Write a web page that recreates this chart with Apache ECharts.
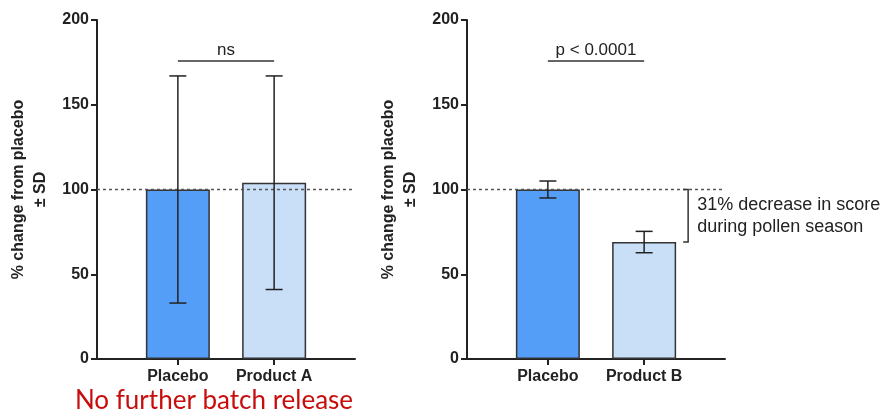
<!DOCTYPE html>
<html><head><meta charset="utf-8">
<script src="https://cdn.jsdelivr.net/npm/echarts@6/dist/echarts.min.js"></script>
<style>html,body{margin:0;padding:0;background:#fff}#c{width:894px;height:418px}</style>
</head><body><div id="c"></div>
<script>
// ---- data ----
const catsLeft = ['Placebo', 'Product A'];
const catsRight = ['Placebo', 'Product B'];
const meanLeft = [100, 104];
const sdLeft = [67, 63];
const meanRight = [100, 69];
const sdRight = [5, 6.3];
const refLine = 100;
const sigY = [176, 176];
const sigText = ['ns', 'p < 0.0001'];
const bracketText = '31% decrease in score\nduring pollen season';
const footnote = 'No further batch release';
const yName = '% change from placebo\n\u00b1 SD';

// ---- style ----
const barColors = ['#559ef8', '#c9def7'];
const ink = '#222';
const FONT = 'Liberation Sans, Arial, sans-serif';

function xAxisFor(gi, cats) {
  return {
    type: 'value', gridIndex: gi, min: -0.84, max: 1.84,
    axisLine: { show: true, onZero: false, lineStyle: { color: ink, width: 2 } },
    axisTick: { show: true, customValues: [0, 1], length: 6, lineStyle: { color: ink, width: 2 } },
    axisLabel: { customValues: [0, 1], formatter: v => cats[Math.round(v)], margin: 10,
      fontFamily: FONT, fontWeight: 'bold', fontSize: 16, color: ink },
    splitLine: { show: false }
  };
}
function yAxisFor(gi) {
  return {
    type: 'value', gridIndex: gi, min: 0, max: 200, interval: 50,
    axisLine: { show: true, onZero: false, lineStyle: { color: ink, width: 2 } },
    axisTick: { show: true, length: 6, lineStyle: { color: ink, width: 2 } },
    axisLabel: { margin: 8, fontFamily: FONT, fontWeight: 'bold', fontSize: 16, color: ink },
    splitLine: { show: false },
    name: yName, nameLocation: 'middle', nameRotate: 90, nameGap: 45,
    nameTextStyle: { fontFamily: FONT, fontWeight: 'bold', fontSize: 16, color: ink, lineHeight: 22 }
  };
}
function barSeries(gi, means, sig, sigLabel) {
  return {
    type: 'bar', xAxisIndex: gi, yAxisIndex: gi, barWidth: 64,
    data: means.map((m, i) => ({ value: [i, m], itemStyle: { color: barColors[i] } })),
    itemStyle: { borderColor: '#333', borderWidth: 1.5 },
    markLine: {
      silent: true, symbol: 'none', animation: false,
      data: [
        { yAxis: refLine, lineStyle: { type: [3, 3], color: '#555', width: 1.3 }, label: { show: false } },
        [ { coord: [0, sig], lineStyle: { type: 'solid', color: '#333', width: 1.5 },
            label: { show: true, position: 'middle', formatter: sigLabel, distance: 2,
              fontFamily: FONT, fontSize: 17, color: ink } },
          { coord: [1, sig] } ]
      ]
    }
  };
}
function errSeries(gi, means, sds) {
  return {
    type: 'custom', xAxisIndex: gi, yAxisIndex: gi, z: 5, clip: false,
    data: means.map((m, i) => [i, m, sds[i]]),
    renderItem: (params, api) => {
      const x = api.value(0), m = api.value(1), s = api.value(2);
      const t = api.coord([x, m + s]), b = api.coord([x, m - s]);
      const hw = 8.5, st = { stroke: ink, lineWidth: 1.5 };
      return { type: 'group', children: [
        { type: 'line', shape: { x1: t[0], y1: t[1], x2: b[0], y2: b[1] }, style: st },
        { type: 'line', shape: { x1: t[0] - hw, y1: t[1], x2: t[0] + hw, y2: t[1] }, style: st },
        { type: 'line', shape: { x1: b[0] - hw, y1: b[1], x2: b[0] + hw, y2: b[1] }, style: st }
      ]};
    }
  };
}
const bracketSeries = {
  type: 'custom', xAxisIndex: 1, yAxisIndex: 1, clip: false, z: 6,
  data: [[1, meanRight[0], meanRight[1]]],
  renderItem: (params, api) => {
    const a = api.coord([api.value(0), api.value(1)]);
    const b = api.coord([api.value(0), api.value(2)]);
    const xb = a[0] + 44;
    return { type: 'group', children: [
      { type: 'polyline', shape: { points: [[xb - 5, a[1]], [xb, a[1]], [xb, b[1]], [xb - 5, b[1]]] },
        style: { stroke: '#333', lineWidth: 1.5, fill: null } },
      { type: 'text', x: xb + 9, y: (a[1] + b[1]) / 2,
        style: { text: bracketText, fontFamily: FONT, fontSize: 18, fill: ink, lineHeight: 22,
          textAlign: 'left', textVerticalAlign: 'middle' } }
    ]};
  }
};

const chart = echarts.init(document.getElementById('c'), null, { renderer: 'canvas' });
chart.setOption({
  animation: false,
  backgroundColor: '#fff',
  grid: [
    { left: 97, top: 20, width: 258, height: 339 },
    { left: 467, top: 20, width: 258, height: 339 }
  ],
  xAxis: [xAxisFor(0, catsLeft), xAxisFor(1, catsRight)],
  yAxis: [yAxisFor(0), yAxisFor(1)],
  series: [
    barSeries(0, meanLeft, sigY[0], sigText[0]),
    errSeries(0, meanLeft, sdLeft),
    barSeries(1, meanRight, sigY[1], sigText[1]),
    errSeries(1, meanRight, sdRight),
    bracketSeries
  ],
  graphic: [{
    type: 'text', x: 214, y: 401,
    style: { text: footnote, fontFamily: 'Lato, Open Sans, sans-serif', fontSize: 26, fill: '#c80d0d',
      textAlign: 'center', textVerticalAlign: 'middle' }
  }]
});
</script></body></html>
